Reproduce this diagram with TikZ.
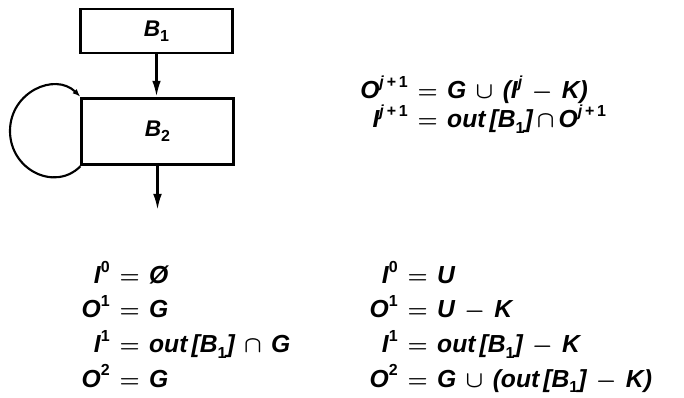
\documentclass[tikz,border=0pt]{standalone}
\usepackage{fontspec}
\setmainfont{Liberation Sans}
\usetikzlibrary{arrows.meta}
\newcommand\hi[1]{\raisebox{0.85ex}{\fontsize{12}{12}\selectfont\upshape #1}}
\newcommand\lo[1]{\raisebox{-0.45ex}{\fontsize{12}{12}\selectfont\upshape #1}}
\newcommand\jj{\textit{j}}
\newcommand\gap{\hspace{0.38em}}
\newcommand\eqs{\gap{\boldmath$=$}\gap}
\newcommand\cupb{{\boldmath$\cup$}}
\newcommand\capb{{\boldmath$\cap$}}
\newcommand\minusb{{\boldmath$-$}}
\tikzset{
  blockbox/.style={draw, line width=2.1pt, inner sep=0pt, minimum width=113.5pt,
    font=\fontsize{17}{19}\selectfont\bfseries\itshape},
  eqtext/.style={inner sep=0pt, font=\fontsize{18.5}{20}\selectfont\bfseries\itshape},
  flow/.style={line width=1.8pt, -{Latex[length=12pt,width=6.5pt]}},
  loopline/.style={line width=1.6pt, -{Latex[length=6pt,width=4.5pt]}}
}
\begin{document}
\begin{tikzpicture}[x=0.75pt,y=-0.75pt]
\useasboundingbox (0,0) rectangle (684,398);
% blocks
\node[blockbox, minimum height=33pt] (b1) at (156.5,31) {B\lo{1}};
\node[blockbox, minimum height=50pt] (b2) at (157.5,131.5) {B\lo{2}};
\coordinate (exit) at (157.5,210);
\draw[flow] (b1.south) -- (b1.south |- b2.north);
\draw[flow] (b2.south) -- (exit);
\draw[loopline] (b2.south west) .. controls (55,192) and (10,170) .. (10,131)
  .. controls (10,92) and (55,72) .. (b2.north west);
% right equations
\node[eqtext, anchor=base east] (r1l) at (408,99) {O\hi{\jj\,+\,1}};
\node[eqtext, anchor=base west] (r1r) at (408,99) {\eqs G\gap\cupb\gap(I\hi{\jj}\gap\minusb\gap K)};
\node[eqtext, anchor=base east] (r2l) at (408,128) {I\hi{\jj\,+\,1}};
\node[eqtext, anchor=base west] (r2r) at (408,128) {\eqs out\,[B\lo{1}]\,\capb\,O\hi{\jj\,+\,1}};
% bottom left column
\node[eqtext, anchor=base east] (a1l) at (110,284) {I\hi{0}};
\node[eqtext, anchor=base west] (a1r) at (110,284) {\eqs Ø};
\node[eqtext, anchor=base east] (a2l) at (110,318) {O\hi{1}};
\node[eqtext, anchor=base west] (a2r) at (110,318) {\eqs G};
\node[eqtext, anchor=base east] (a3l) at (110,353) {I\hi{1}};
\node[eqtext, anchor=base west] (a3r) at (110,353) {\eqs out\,[B\lo{1}]\gap\capb\gap G};
\node[eqtext, anchor=base east] (a4l) at (110,387) {O\hi{2}};
\node[eqtext, anchor=base west] (a4r) at (110,387) {\eqs G};
% bottom right column
\node[eqtext, anchor=base east] (c1l) at (398,284) {I\hi{0}};
\node[eqtext, anchor=base west] (c1r) at (398,284) {\eqs U};
\node[eqtext, anchor=base east] (c2l) at (398,318) {O\hi{1}};
\node[eqtext, anchor=base west] (c2r) at (398,318) {\eqs U\gap\minusb\gap K};
\node[eqtext, anchor=base east] (c3l) at (398,353) {I\hi{1}};
\node[eqtext, anchor=base west] (c3r) at (398,353) {\eqs out\,[B\lo{1}]\gap\minusb\gap K};
\node[eqtext, anchor=base east] (c4l) at (398,387) {O\hi{2}};
\node[eqtext, anchor=base west] (c4r) at (398,387) {\eqs G\gap\cupb\gap(out\,[B\lo{1}]\gap\minusb\gap K)};
\end{tikzpicture}
\end{document}
